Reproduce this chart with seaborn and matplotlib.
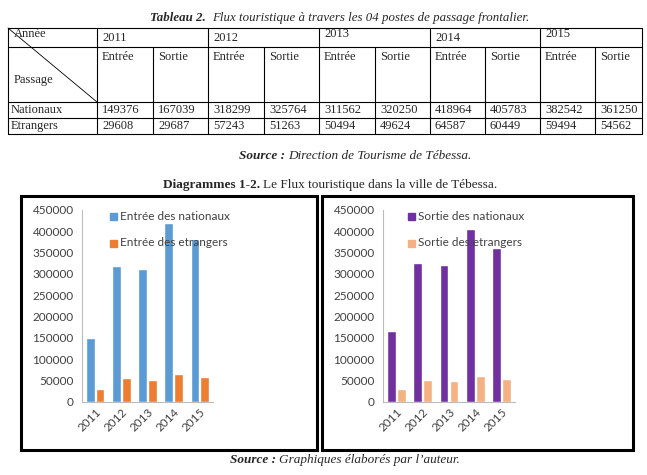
import matplotlib
matplotlib.use("Agg")
import matplotlib.pyplot as plt
from matplotlib.patches import Rectangle
import pandas as pd
import seaborn as sns

years = ["2011", "2012", "2013", "2014", "2015"]
entree_nat = [149376, 318299, 311562, 418964, 382542]
sortie_nat = [167039, 325764, 320250, 405783, 361250]
entree_etr = [29608, 57243, 50494, 64587, 59494]
sortie_etr = [29687, 51263, 49624, 60449, 54562]

sns.set_theme(style="white")
plt.rcParams["font.family"] = ["Lato", "DejaVu Sans"]

W, H = 647, 475
fig = plt.figure(figsize=(W / 100, H / 100), dpi=100)
fig.patch.set_facecolor("white")
SERIF = "Liberation Serif"


def px(x, y):
    return x / W, 1 - y / H


def line(x0, y0, x1, y1, lw=0.8):
    a, b = px(x0, y0)
    c, d = px(x1, y1)
    fig.add_artist(plt.Line2D([a, c], [b, d], color="black", lw=lw))


def text(x, y, s, **kw):
    kw.setdefault("family", SERIF)
    kw.setdefault("fontsize", 9)
    kw.setdefault("va", "center")
    fig.text(*px(x, y), s, **kw)


# title of the table
text(150, 18, "Tableau 2.", style="italic", weight="bold", ha="left", fontsize=9.3)
text(212, 18, "Flux touristique à travers les 04 postes de passage frontalier.",
     style="italic", ha="left", fontsize=9.3)

# table grid
cols = [8, 97, 153, 208, 264, 319, 375, 430, 485, 540, 595, 642]
rows = [28, 47, 102, 118, 134]
for y in rows:
    line(cols[0], y, cols[-1], y)
line(cols[0], 28, cols[0], 134)
line(cols[-1], 28, cols[-1], 134)
for i, x in enumerate(cols[1:-1], start=1):
    top = 28 if i % 2 == 1 else 47
    line(x, top, x, 134)
line(cols[0], 28, cols[1], 102, lw=0.6)

text(14, 34, "Année", ha="left")
text(14, 80, "Passage", ha="left")
for i, yr in enumerate(years):
    text(cols[1 + 2 * i] + 5, 38 if yr not in ("2013", "2015") else 34, yr, ha="left")
    text(cols[1 + 2 * i] + 5, 57, "Entrée", ha="left")
    text(cols[2 + 2 * i] + 5, 57, "Sortie", ha="left")

text(11, 110, "Nationaux", ha="left")
text(11, 126, "Etrangers", ha="left")
for i in range(5):
    text(cols[1 + 2 * i] + 5, 110, str(entree_nat[i]), ha="left")
    text(cols[2 + 2 * i] + 5, 110, str(sortie_nat[i]), ha="left")
    text(cols[1 + 2 * i] + 5, 126, str(entree_etr[i]), ha="left")
    text(cols[2 + 2 * i] + 5, 126, str(sortie_etr[i]), ha="left")

text(285, 156, "Source :", style="italic", weight="bold", ha="right", fontsize=9.5)
text(288, 156, "Direction de Tourisme de Tébessa.", style="italic", ha="left", fontsize=9.5)

text(260, 185, "Diagrammes 1-2.", weight="bold", ha="right", fontsize=9.5)
text(263, 185, "Le Flux touristique dans la ville de Tébessa.", ha="left", fontsize=9.5)

# frames
for x0, x1 in [(21, 317), (322, 633)]:
    a, b = px(x0, 450)
    fig.add_artist(Rectangle((a, b), (x1 - x0) / W, (450 - 196) / H,
                             fill=False, lw=2.2, ec="black"))


def chart(ax_left, ax_right, nat, etr, labels, colors, leg_x):
    df = pd.DataFrame({
        "Année": years * 2,
        "Valeur": nat + etr,
        "Série": [labels[0]] * 5 + [labels[1]] * 5,
    })
    x0, y0 = px(ax_left, 402)
    ax = fig.add_axes([x0, y0, (ax_right - ax_left) / W, (402 - 210) / H])
    sns.barplot(data=df, x="Année", y="Valeur", hue="Série", palette=colors,
                width=0.75, gap=0.12, saturation=1, ax=ax, legend=False)
    ax.set_ylim(0, 450000)
    ax.set_xlim(-0.5, 4.5)
    ax.set_yticks(range(0, 450001, 50000))
    ax.set_xlabel("")
    ax.set_ylabel("")
    ax.tick_params(axis="both", labelsize=8.5, colors="#404040", length=0, pad=3)
    ax.tick_params(axis="y", length=3, color="#bbbbbb", direction="out")
    for lab in ax.get_xticklabels():
        lab.set_rotation(45)
        lab.set_ha("right")
        lab.set_rotation_mode("anchor")
    for s in ["top", "right"]:
        ax.spines[s].set_visible(False)
    for s in ["left", "bottom"]:
        ax.spines[s].set_color("#bbbbbb")
        ax.spines[s].set_linewidth(0.8)
    ax.set_facecolor("none")
    for j, (lab, col) in enumerate(zip(labels, colors)):
        y = 217 + 26 * j
        a, b = px(leg_x, y + 3.5)
        fig.add_artist(Rectangle((a, b), 7 / W, 7 / H, color=col))
        fig.text(*px(leg_x + 10, y), lab, fontsize=8.5, color="#404040", va="center")


chart(82, 213, entree_nat, entree_etr,
      ["Entrée des nationaux", "Entrée des etrangers"],
      ["#5B9BD5", "#ED7D31"], 110)
chart(383, 515, sortie_nat, sortie_etr,
      ["Sortie des nationaux", "Sortie des etrangers"],
      ["#7030A0", "#F4B183"], 408)

text(276, 460, "Source :", style="italic", weight="bold", ha="right", fontsize=9.5)
text(279, 460, "Graphiques élaborés par l’auteur.", style="italic", ha="left", fontsize=9.5)

fig.savefig("out.png", dpi=100, facecolor="white")
